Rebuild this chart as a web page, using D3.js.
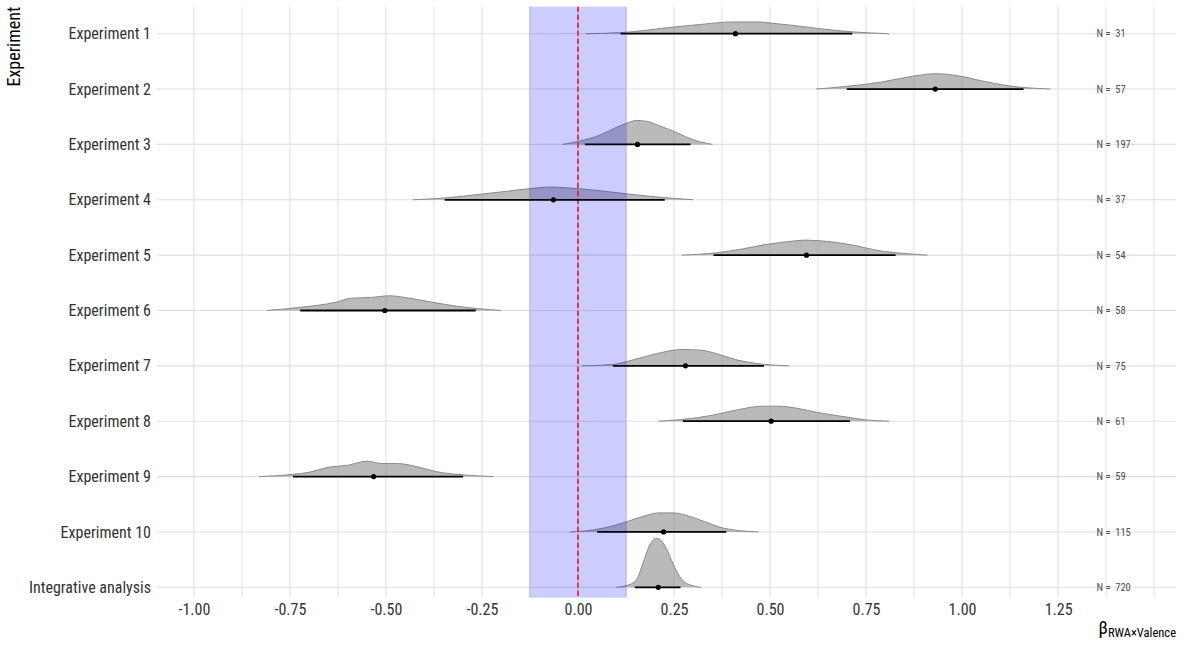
<!DOCTYPE html>
<html>
<head>
<meta charset="utf-8">
<script src="https://cdn.jsdelivr.net/npm/d3@7"></script>
<style>
  body { margin: 0; background: #fff; }
  text { font-family: "Roboto Condensed", "Liberation Sans Narrow", Roboto, sans-serif; }
</style>
</head>
<body>
<div id="chart"></div>
<script>
const categories = ["Experiment 1", "Experiment 2", "Experiment 3", "Experiment 4", "Experiment 5",
  "Experiment 6", "Experiment 7", "Experiment 8", "Experiment 9", "Experiment 10", "Integrative analysis"];
const sampleSizes = [31, 57, 197, 37, 54, 58, 75, 61, 59, 115, 720];
const estimates = [0.41, 0.93, 0.155, -0.064, 0.595, -0.503, 0.28, 0.503, -0.532, 0.223, 0.209];
const lower = [0.111, 0.70, 0.018, -0.347, 0.353, -0.723, 0.091, 0.273, -0.742, 0.05, 0.148];
const upper = [0.714, 1.16, 0.293, 0.226, 0.827, -0.266, 0.484, 0.708, -0.299, 0.386, 0.267];

// posterior density: x positions and density heights
const ridgeX = [
  [0.02, 0.11, 0.25, 0.33, 0.40, 0.47, 0.51, 0.56, 0.63, 0.72, 0.81],
  [0.62, 0.70, 0.79, 0.87, 0.93, 0.99, 1.05, 1.12, 1.23],
  [-0.04, 0.00, 0.06, 0.10, 0.14, 0.15, 0.18, 0.21, 0.26, 0.30, 0.35],
  [-0.43, -0.35, -0.25, -0.19, -0.13, -0.07, -0.03, 0.04, 0.11, 0.20, 0.30],
  [0.27, 0.36, 0.43, 0.49, 0.56, 0.59, 0.64, 0.72, 0.78, 0.85, 0.91],
  [-0.81, -0.72, -0.63, -0.59, -0.54, -0.49, -0.45, -0.38, -0.31, -0.20],
  [0.01, 0.09, 0.14, 0.20, 0.27, 0.32, 0.36, 0.41, 0.48, 0.55],
  [0.21, 0.27, 0.35, 0.41, 0.48, 0.52, 0.58, 0.62, 0.70, 0.75, 0.81],
  [-0.83, -0.74, -0.70, -0.65, -0.60, -0.55, -0.51, -0.47, -0.42, -0.37, -0.30, -0.22],
  [-0.02, 0.04, 0.09, 0.135, 0.18, 0.21, 0.25, 0.28, 0.33, 0.37, 0.42, 0.47],
  [0.10, 0.126, 0.152, 0.169, 0.187, 0.204, 0.213, 0.23, 0.247, 0.265, 0.282, 0.32]
];
const ridgeDensity = [
  [0, 0.23, 1.54, 2.23, 2.70, 2.70, 2.37, 1.91, 1.15, 0.39, 0],
  [0, 0.62, 1.61, 2.93, 3.53, 3.06, 1.91, 0.76, 0],
  [0, 0.69, 2.24, 3.92, 5.30, 5.53, 5.30, 4.38, 2.60, 1.08, 0],
  [0, 0.39, 1.31, 1.91, 2.53, 2.93, 2.76, 2.24, 1.54, 0.69, 0],
  [0, 0.53, 1.45, 2.47, 3.23, 3.46, 3.23, 2.24, 1.08, 0.39, 0],
  [0, 0.76, 1.91, 2.83, 3.00, 3.39, 3.00, 1.91, 0.92, 0],
  [0, 0.30, 1.31, 2.70, 3.76, 3.62, 2.83, 1.45, 0.39, 0],
  [0, 0.39, 1.38, 2.53, 3.46, 3.46, 2.83, 2.07, 0.95, 0.30, 0],
  [0, 0.53, 0.99, 2.14, 2.60, 3.53, 3.00, 3.00, 2.30, 1.15, 0.39, 0],
  [0, 0.46, 1.38, 2.60, 3.85, 4.38, 4.38, 3.85, 2.37, 1.08, 0.30, 0],
  [0, 0.39, 1.68, 5.53, 9.75, 11.29, 11.06, 8.99, 5.53, 2.47, 0.92, 0]
];

const xTicks = [-1, -0.75, -0.5, -0.25, 0, 0.25, 0.5, 0.75, 1, 1.25];
const xMinor = [-0.875, -0.625, -0.375, -0.125, 0.125, 0.375, 0.625, 0.875, 1.125, 1.375, 1.5];
const ropeBand = [-0.127, 0.127];

const width = 1181, height = 646;
const panel = { left: 157, right: 1176, top: 6.7, bottom: 597.7 };

const svg = d3.select("#chart").append("svg")
  .attr("width", width)
  .attr("height", height);

const x = d3.scaleLinear()
  .domain([-1.096, 1.557])
  .range([panel.left, panel.right]);

const y = d3.scalePoint()
  .domain(categories)
  .range([33.7, 587.3]);

const h = d3.scaleLinear()
  .domain([0, 1])
  .range([0, 4.34]);

// grid
const grid = svg.append("g");
grid.selectAll(".vminor").data(xMinor).join("line")
  .attr("x1", d => x(d)).attr("x2", d => x(d))
  .attr("y1", panel.top).attr("y2", panel.bottom)
  .attr("stroke", "#e2e2e2").attr("stroke-width", 1);
grid.selectAll(".vmajor").data(xTicks).join("line")
  .attr("x1", d => x(d)).attr("x2", d => x(d))
  .attr("y1", panel.top).attr("y2", panel.bottom)
  .attr("stroke", "#dfdfdf").attr("stroke-width", 1.1);
grid.selectAll(".hmajor").data(categories).join("line")
  .attr("x1", panel.left).attr("x2", panel.right)
  .attr("y1", d => y(d)).attr("y2", d => y(d))
  .attr("stroke", "#dfdfdf").attr("stroke-width", 1.1);

// ridges
const ridgeArea = d3.area()
  .x(d => x(d[0]))
  .y0(d => d[2])
  .y1(d => d[2] - h(d[1]))
  .curve(d3.curveMonotoneX);
const ridgeLine = d3.line()
  .x(d => x(d[0]))
  .y(d => d[2] - h(d[1]))
  .curve(d3.curveMonotoneX);

categories.forEach((c, i) => {
  const pts = ridgeX[i].map((v, j) => [v, ridgeDensity[i][j], y(c)]);
  svg.append("path")
    .attr("d", ridgeArea(pts))
    .attr("fill", "#808080")
    .attr("fill-opacity", 0.54);
  svg.append("path")
    .attr("d", ridgeLine(pts))
    .attr("fill", "none")
    .attr("stroke", "#8a8a8a")
    .attr("stroke-width", 1);
});

// region of practical equivalence
svg.append("rect")
  .attr("x", x(ropeBand[0]))
  .attr("width", x(ropeBand[1]) - x(ropeBand[0]))
  .attr("y", panel.top)
  .attr("height", panel.bottom - panel.top)
  .attr("fill", "blue")
  .attr("fill-opacity", 0.2);

svg.append("line")
  .attr("x1", x(0)).attr("x2", x(0))
  .attr("y1", panel.top).attr("y2", panel.bottom)
  .attr("stroke", "#f0141e")
  .attr("stroke-width", 1.6)
  .attr("stroke-dasharray", "5,3");

// intervals and point estimates
svg.selectAll(".interval").data(categories).join("line")
  .attr("x1", (d, i) => x(lower[i]))
  .attr("x2", (d, i) => x(upper[i]))
  .attr("y1", d => y(d)).attr("y2", d => y(d))
  .attr("stroke", "#000")
  .attr("stroke-width", 1.8);
svg.selectAll(".estimate").data(categories).join("circle")
  .attr("cx", (d, i) => x(estimates[i]))
  .attr("cy", d => y(d))
  .attr("r", 2.6)
  .attr("fill", "#000");

// sample size labels
svg.selectAll(".nlabel").data(categories).join("text")
  .attr("x", x(1.35))
  .attr("y", d => y(d))
  .attr("dy", "0.35em")
  .attr("font-size", 10.5)
  .attr("fill", "#4d4d4d")
  .attr("xml:space", "preserve")
  .text((d, i) => "N =  " + sampleSizes[i]);

// axes
const xAxis = svg.append("g")
  .attr("transform", "translate(0," + panel.bottom + ")")
  .call(d3.axisBottom(x).tickValues(xTicks).tickSize(0).tickPadding(6)
    .tickFormat(d => d.toFixed(2)));
const yAxis = svg.append("g")
  .attr("transform", "translate(" + panel.left + ",0)")
  .call(d3.axisLeft(y).tickSize(0).tickPadding(6));
[xAxis, yAxis].forEach(a => {
  a.select(".domain").remove();
  a.selectAll("text")
    .attr("font-family", null)
    .attr("font-size", 16)
    .attr("fill", "#333");
});

svg.append("text")
  .attr("transform", "translate(20," + panel.top + ") rotate(-90)")
  .attr("text-anchor", "end")
  .attr("font-size", 18)
  .attr("fill", "#000")
  .text("Experiment");

const xTitle = svg.append("text")
  .attr("x", panel.right)
  .attr("y", 634)
  .attr("text-anchor", "end")
  .attr("fill", "#000");
xTitle.append("tspan").attr("font-size", 18).text("β");
xTitle.append("tspan").attr("font-size", 12.5).attr("dy", 3).text("RWA×Valence");
</script>
</body>
</html>
